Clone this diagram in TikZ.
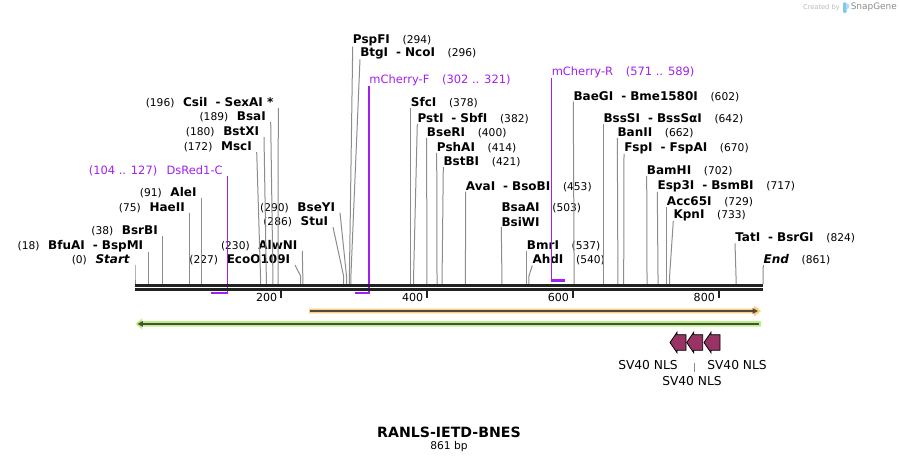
\documentclass[tikz,border=0pt]{standalone}
\usepackage{fontspec}
\setmainfont{DejaVu Sans}
\usetikzlibrary{arrows.meta}

\definecolor{sitegray}{HTML}{8C8C8C}
\definecolor{barblack}{HTML}{222222}
\definecolor{primerpurple}{RGB}{160,32,240}
\definecolor{orangefeat}{RGB}{255,204,128}
\definecolor{greenfeat}{RGB}{184,242,128}
\definecolor{featline}{HTML}{4D4D3F}
\definecolor{nlsfill}{RGB}{153,51,102}
\definecolor{logoblue}{RGB}{126,200,240}

\newcommand{\sitepos}[1]{{\normalfont\fontsize{8}{9.6}\selectfont(#1)}}
\newcommand{\andsite}{\hspace{6pt}-\hspace{3pt}}

\begin{document}
\begin{tikzpicture}[%
  x = 0.75pt, y = -0.75pt,
  lsite/.style = {anchor = south east, inner xsep = 3.5pt, inner ysep = 0pt,
    font = \fontsize{9}{11.25}\selectfont\bfseries},
  rsite/.style = {anchor = south west, inner xsep = 0pt, inner ysep = 0pt,
    font = \fontsize{9}{11.25}\selectfont\bfseries},
  primer/.style = {text = primerpurple, inner ysep = 0pt,
    font = \fontsize{8.6}{10.3}\selectfont},
  cutline/.style = {sitegray, line width = 0.75pt},
  primerline/.style = {primerpurple, line width = 1.1pt},
  primerfoot/.style = {primerpurple, line width = 2pt},
  barline/.style = {barblack, line width = 2.25pt},
  tick/.style = {barblack, line width = 1.5pt},
  ticklabel/.style = {anchor = east, inner xsep = 1.5pt, font = \fontsize{8.3}{10}\selectfont},
  nls/.style = {fill = nlsfill, draw = black, line width = 0.6pt},
  nlslabel/.style = {font = \fontsize{9.2}{11}\selectfont}]
  \useasboundingbox (0,0) rectangle (899,463);

  % sites on the sequence
  \coordinate (p0)   at (135.0,284);
  \coordinate (p18)  at (148.1,284);
  \coordinate (p38)  at (162.7,284);
  \coordinate (p75)  at (189.7,284);
  \coordinate (p91)  at (201.4,284);
  \coordinate (p172) at (260.5,284);
  \coordinate (p180) at (266.3,284);
  \coordinate (p189) at (272.9,284);
  \coordinate (p196) at (278.0,284);
  \coordinate (p227) at (300.6,284);
  \coordinate (p230) at (302.8,284);
  \coordinate (p286) at (343.6,284);
  \coordinate (p290) at (346.5,284);
  \coordinate (p294) at (349.4,284);
  \coordinate (p296) at (350.9,284);
  \coordinate (p378) at (410.7,284);
  \coordinate (p382) at (413.6,284);
  \coordinate (p400) at (426.8,284);
  \coordinate (p414) at (437.0,284);
  \coordinate (p421) at (442.1,284);
  \coordinate (p453) at (465.4,284);
  \coordinate (p503) at (501.9,284);
  \coordinate (p537) at (526.7,284);
  \coordinate (p540) at (528.9,284);
  \coordinate (p602) at (574.1,284);
  \coordinate (p642) at (603.3,284);
  \coordinate (p662) at (617.9,284);
  \coordinate (p670) at (623.7,284);
  \coordinate (p702) at (647.0,284);
  \coordinate (p717) at (658.0,284);
  \coordinate (p729) at (666.7,284);
  \coordinate (p733) at (669.6,284);
  \coordinate (p824) at (736.0,284);
  \coordinate (p861) at (763.0,284);

  % labels left of their line
  \node[lsite] (startsite) at (135,265) {\sitepos{0}\hspace{6.5pt}\textit{Start}};
  \node[lsite] (bfuai) at (148.1,252) {\sitepos{18}\hspace{6.5pt}BfuAI\andsite BspMI};
  \node[lsite] (bsrbi) at (162.7,236) {\sitepos{38}\hspace{6.5pt}BsrBI};
  \node[lsite] (haeii) at (189.7,213) {\sitepos{75}\hspace{6.5pt}HaeII};
  \node[lsite] (alei)  at (201.4,198) {\sitepos{91}\hspace{6.5pt}AleI};
  \node[lsite] (msci)  at (256.7,152) {\sitepos{172}\hspace{6.5pt}MscI};
  \node[lsite] (bstxi) at (264,137) {\sitepos{180}\hspace{6.5pt}BstXI};
  \node[lsite] (bsai)  at (270.7,122) {\sitepos{189}\hspace{6.5pt}BsaI};
  \node[lsite] (csii)  at (278.3,108) {\sitepos{196}\hspace{6.5pt}CsiI\andsite SexAI *};
  \node[lsite] (ecoo)  at (295,265) {\sitepos{227}\hspace{6.5pt}EcoO109I};
  \node[lsite] (alwni) at (302.3,251) {\sitepos{230}\hspace{6.5pt}AlwNI};
  \node[lsite] (stui)  at (333,227) {\sitepos{286}\hspace{6.5pt}StuI};
  \node[lsite] (bseyi) at (340,212.7) {\sitepos{290}\hspace{6.5pt}BseYI};

  % labels right of their line
  \node[rsite] (pspfi)  at (352.7,46.7) {PspFI\hspace{9.5pt}\sitepos{294}};
  \node[rsite] (btgi)   at (360,59.3) {BtgI\andsite NcoI\hspace{9.5pt}\sitepos{296}};
  \node[rsite] (sfci)   at (410.7,108) {SfcI\hspace{9.5pt}\sitepos{378}};
  \node[rsite] (psti)   at (417.3,124) {PstI\andsite SbfI\hspace{9.5pt}\sitepos{382}};
  \node[rsite] (bseri)  at (426.7,138) {BseRI\hspace{9.5pt}\sitepos{400}};
  \node[rsite] (pshai)  at (436.7,153) {PshAI\hspace{9.5pt}\sitepos{414}};
  \node[rsite] (bstbi)  at (443.3,167) {BstBI\hspace{9.5pt}\sitepos{421}};
  \node[rsite] (avai)   at (465.7,191.7) {AvaI\andsite BsoBI\hspace{9.5pt}\sitepos{453}};
  \node[rsite, align = left] (bsaai) at (501.3,227) {BsaAI\hspace{9.5pt}\sitepos{503}\\BsiWI};
  \node[rsite] (bmri)   at (526.7,250.7) {BmrI\hspace{9.5pt}\sitepos{537}};
  \node[rsite] (ahdi)   at (532.3,265.5) {AhdI\hspace{9.5pt}\sitepos{540}};
  \node[rsite] (baegi)  at (573.3,101.7) {BaeGI\andsite Bme1580I\hspace{9.5pt}\sitepos{602}};
  \node[rsite] (bsssi)  at (603.3,124) {BssSI\andsite BssSαI\hspace{9.5pt}\sitepos{642}};
  \node[rsite] (banii)  at (617.3,138) {BanII\hspace{9.5pt}\sitepos{662}};
  \node[rsite] (fspi)   at (624,154) {FspI\andsite FspAI\hspace{9.5pt}\sitepos{670}};
  \node[rsite] (bamhi)  at (646.7,176) {BamHI\hspace{9.5pt}\sitepos{702}};
  \node[rsite] (esp3i)  at (657.3,192) {Esp3I\andsite BsmBI\hspace{9.5pt}\sitepos{717}};
  \node[rsite] (acc65i) at (666.7,207) {Acc65I\hspace{9.5pt}\sitepos{729}};
  \node[rsite] (kpni)   at (673.3,221) {KpnI\hspace{9.5pt}\sitepos{733}};
  \node[rsite] (tati)   at (735,243.3) {TatI\andsite BsrGI\hspace{9.5pt}\sitepos{824}};
  \node[rsite] (endsite) at (763.3,265) {\textit{End}\hspace{9.5pt}\sitepos{861}};

  \draw[cutline] (startsite.south east) -- ([yshift = 6pt]p0) -- (p0);
  \draw[cutline] (bfuai.south east) -- ([yshift = 6pt]p18) -- (p18);
  \draw[cutline] (bsrbi.south east) -- ([yshift = 6pt]p38) -- (p38);
  \draw[cutline] (haeii.south east) -- ([yshift = 6pt]p75) -- (p75);
  \draw[cutline] (alei.south east) -- ([yshift = 6pt]p91) -- (p91);
  \draw[cutline] (msci.south east) -- ([yshift = 6pt]p172) -- (p172);
  \draw[cutline] (bstxi.south east) -- ([yshift = 6pt]p180) -- (p180);
  \draw[cutline] (bsai.south east) -- ([yshift = 6pt]p189) -- (p189);
  \draw[cutline] (csii.south east) -- ([yshift = 6pt]p196) -- (p196);
  \draw[cutline] (ecoo.south east) -- ([yshift = 6pt]p227) -- (p227);
  \draw[cutline] (alwni.south east) -- ([yshift = 6pt]p230) -- (p230);
  \draw[cutline] (stui.south east) -- ([yshift = 6pt]p286) -- (p286);
  \draw[cutline] (bseyi.south east) -- ([yshift = 6pt]p290) -- (p290);
  \draw[cutline] (pspfi.south west) -- ([yshift = 6pt]p294) -- (p294);
  \draw[cutline] (btgi.south west) -- ([yshift = 6pt]p296) -- (p296);
  \draw[cutline] (sfci.south west) -- ([yshift = 6pt]p378) -- (p378);
  \draw[cutline] (psti.south west) -- ([yshift = 6pt]p382) -- (p382);
  \draw[cutline] (bseri.south west) -- ([yshift = 6pt]p400) -- (p400);
  \draw[cutline] (pshai.south west) -- ([yshift = 6pt]p414) -- (p414);
  \draw[cutline] (bstbi.south west) -- ([yshift = 6pt]p421) -- (p421);
  \draw[cutline] (avai.south west) -- ([yshift = 6pt]p453) -- (p453);
  \draw[cutline] (bsaai.south west) -- ([yshift = 6pt]p503) -- (p503);
  \draw[cutline] (bmri.south west) -- ([yshift = 6pt]p537) -- (p537);
  \draw[cutline] (ahdi.south west) -- ([yshift = 6pt]p540) -- (p540);
  \draw[cutline] (baegi.south west) -- ([yshift = 6pt]p602) -- (p602);
  \draw[cutline] (bsssi.south west) -- ([yshift = 6pt]p642) -- (p642);
  \draw[cutline] (banii.south west) -- ([yshift = 6pt]p662) -- (p662);
  \draw[cutline] (fspi.south west) -- ([yshift = 6pt]p670) -- (p670);
  \draw[cutline] (bamhi.south west) -- ([yshift = 6pt]p702) -- (p702);
  \draw[cutline] (esp3i.south west) -- ([yshift = 6pt]p717) -- (p717);
  \draw[cutline] (acc65i.south west) -- ([yshift = 6pt]p729) -- (p729);
  \draw[cutline] (kpni.south west) -- ([yshift = 6pt]p733) -- (p733);
  \draw[cutline] (tati.south west) -- ([yshift = 6pt]p824) -- (p824);
  \draw[cutline] (endsite.south west) -- ([yshift = 6pt]p861) -- (p861);

  % primers
  \coordinate (pr104) at (210.9,293);
  \coordinate (pr127) at (227.6,293);
  \coordinate (pr302) at (355.3,293);
  \coordinate (pr321) at (369.1,293);
  \coordinate (pr571) at (551.5,280.5);
  \coordinate (pr589) at (564.6,280.5);
  \node[primer, anchor = south east, inner xsep = 3.5pt] (dsred) at (227.6,176)
    {(104 .. 127)\hspace{7pt}DsRed1-C};
  \node[primer, anchor = south west, inner xsep = 0pt] (mcherryf) at (369.1,86)
    {mCherry-F\hspace{9.5pt}(302 .. 321)};
  \node[primer, anchor = south west, inner xsep = 0pt] (mcherryr) at (551.5,78)
    {mCherry-R\hspace{9.5pt}(571 .. 589)};
  \draw[primerline] (dsred.south east) -- (pr127);
  \draw[primerfoot] ([xshift = 0.5pt]pr127) -- (pr104);
  \draw[primerline] (mcherryf.south west) -- (pr321);
  \draw[primerfoot] ([xshift = 0.5pt]pr321) -- (pr302);
  \draw[primerline] (mcherryr.south west) -- (pr571);
  \draw[primerfoot] ([xshift = -0.5pt]pr571) -- (pr589);

  % sequence bar and ruler
  \draw[barline] (135,285.5) -- (763,285.5);
  \draw[barline] (135,289.5) -- (763,289.5);
  \coordinate (t200) at (280.9,290);
  \coordinate (t400) at (426.8,290);
  \coordinate (t600) at (572.6,290);
  \coordinate (t800) at (718.5,290);
  \draw[tick] (t200) -- ++(0,7.5);
  \draw[tick] (t400) -- ++(0,7.5);
  \draw[tick] (t600) -- ++(0,7.5);
  \draw[tick] (t800) -- ++(0,7.5);
  \node[ticklabel] (lbl200) at (279.5,297) {200};
  \node[ticklabel] (lbl400) at (425.4,297) {400};
  \node[ticklabel] (lbl600) at (571.2,297) {600};
  \node[ticklabel] (lbl800) at (717.1,297) {800};

  % features
  \fill[orangefeat] (309,308.7) -- (754,308.7) -- (754,305.5) -- (761,311)
    -- (754,316.5) -- (754,313.3) -- (309,313.3) -- cycle;
  \draw[featline, line width = 1.4pt, -{Triangle[length = 4pt, width = 4pt]}]
    (310,311) -- (758,311);
  \fill[greenfeat] (761,321.2) -- (142,321.2) -- (142,318.4) -- (135.5,323.9)
    -- (142,329.4) -- (142,326.6) -- (761,326.6) -- cycle;
  \draw[featline, line width = 1.4pt, -{Triangle[length = 4pt, width = 4pt]}]
    (759,323.9) -- (137.5,323.9);

  \draw[nls] (670,342.5) -- ++(7,-10.2) -- ++(0,2.4) -- ++(9,0) -- ++(0,15.6)
    -- ++(-9,0) -- ++(0,2.4) -- cycle;
  \draw[nls] (686.7,342.5) -- ++(7,-10.2) -- ++(0,2.4) -- ++(9,0) -- ++(0,15.6)
    -- ++(-9,0) -- ++(0,2.4) -- cycle;
  \draw[nls] (704,342.5) -- ++(7,-10.2) -- ++(0,2.4) -- ++(9,0) -- ++(0,15.6)
    -- ++(-9,0) -- ++(0,2.4) -- cycle;
  \node[nlslabel] (nls1) at (648,365) {SV40 NLS};
  \node[nlslabel] (nls3) at (737,365) {SV40 NLS};
  \node[nlslabel] (nls2) at (692,381) {SV40 NLS};
  \coordinate (nlsmid) at (694.3,362.5);
  \draw[sitegray, line width = 0.6pt] (nls2.north -| nlsmid) -- (nlsmid);

  % name and length
  \node[font = \fontsize{10.6}{12}\selectfont\bfseries] (title) at (449,432) {RANLS-IETD-BNES};
  \node[font = \fontsize{8}{10}\selectfont] (length) at (449,447) {861 bp};

  % credit
  \node[anchor = east, inner sep = 0pt, text = black!28, font = \fontsize{5}{6}\selectfont]
    (createdby) at (840,7.5) {Created by};
  \fill[logoblue, rounded corners = 0.8pt] (843,2.5) rectangle (846.5,13);
  \fill[logoblue!60] (846.5,3) -- (849,4.5) -- (849,8) -- (846.5,9.5) -- cycle;
  \node[anchor = west, inner sep = 0pt, text = black!45, font = \fontsize{6.7}{8}\selectfont]
    (snapgene) at (850.5,7.5) {SnapGene};
\end{tikzpicture}
\end{document}
